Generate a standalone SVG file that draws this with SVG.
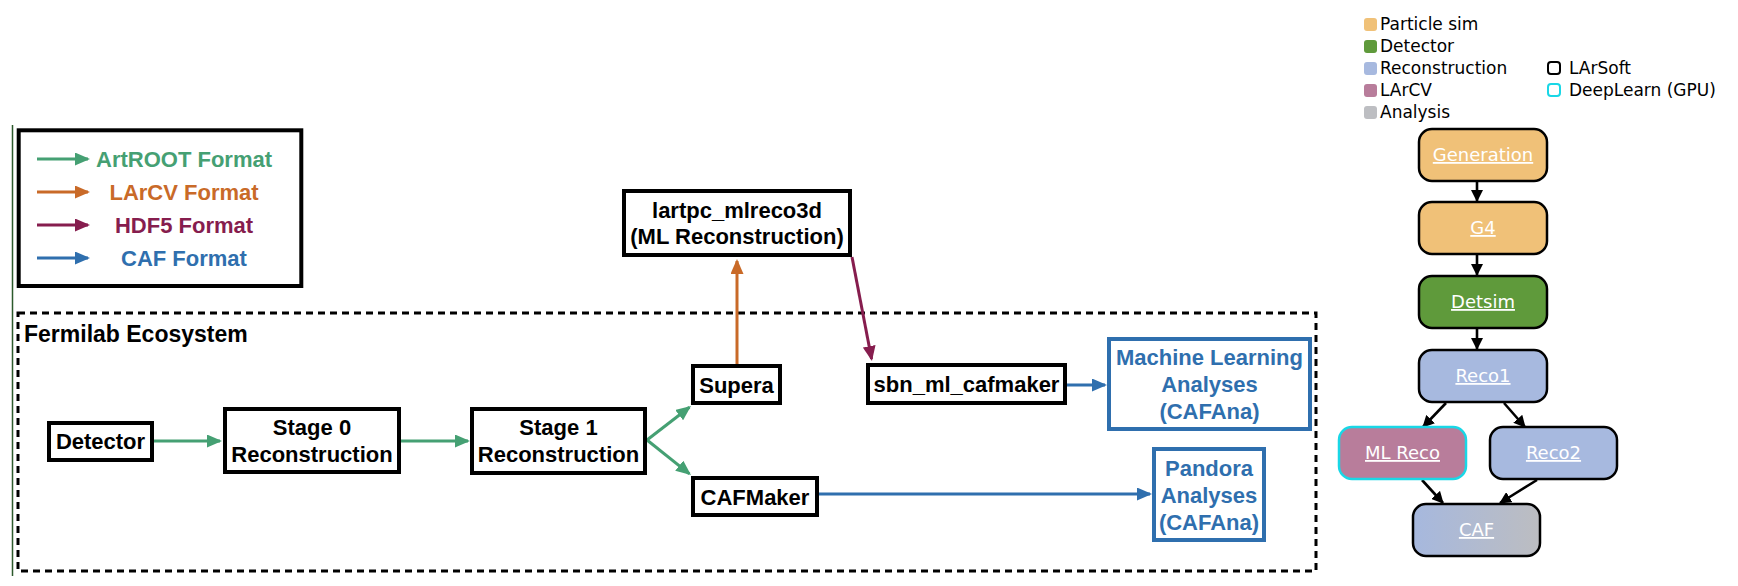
<svg xmlns="http://www.w3.org/2000/svg" width="1738" height="586" viewBox="0 0 1738 586">
<defs>
<style>
.t{font-family:"Liberation Sans",Arial,sans-serif;font-weight:bold;font-size:22px;text-anchor:middle;fill:#000}
.box{fill:#fff;stroke:#000;stroke-width:4}
.bbox{fill:#fff;stroke:#2f6fae;stroke-width:4}
.g{stroke:#45a073;stroke-width:3;fill:none}
.o{stroke:#c96a28;stroke-width:3;fill:none}
.p{stroke:#861d4e;stroke-width:3;fill:none}
.b{stroke:#2f6fae;stroke-width:3;fill:none}
.k{stroke:#000;stroke-width:2.6;fill:none}
.lt{font-family:"DejaVu Sans",Verdana,sans-serif;font-size:17px;fill:#000}
.nt{font-family:"DejaVu Sans",Verdana,sans-serif;font-size:18px;fill:#fff;text-anchor:middle;text-decoration:underline}
.rn{stroke:#000;stroke-width:2.5}
</style>
<marker id="mg" markerUnits="userSpaceOnUse" markerWidth="15" markerHeight="13" refX="13" refY="6.5" orient="auto"><path d="M0,0 L15,6.5 L0,13 z" fill="#45a073"/></marker>
<marker id="mo" markerUnits="userSpaceOnUse" markerWidth="15" markerHeight="13" refX="13" refY="6.5" orient="auto"><path d="M0,0 L15,6.5 L0,13 z" fill="#c96a28"/></marker>
<marker id="mp" markerUnits="userSpaceOnUse" markerWidth="15" markerHeight="13" refX="13" refY="6.5" orient="auto"><path d="M0,0 L15,6.5 L0,13 z" fill="#861d4e"/></marker>
<marker id="mb" markerUnits="userSpaceOnUse" markerWidth="15" markerHeight="13" refX="13" refY="6.5" orient="auto"><path d="M0,0 L15,6.5 L0,13 z" fill="#2f6fae"/></marker>
<marker id="mk" markerUnits="userSpaceOnUse" markerWidth="12" markerHeight="12" refX="11" refY="6" orient="auto"><path d="M0,0 L12,6 L0,12 z" fill="#000"/></marker>
<linearGradient id="cafg" x1="0" y1="0" x2="1" y2="0"><stop offset="0" stop-color="#a6b8de"/><stop offset="1" stop-color="#bcbdc1"/></linearGradient>
</defs>
<rect width="1738" height="586" fill="#fff"/>

<line x1="12.5" y1="125" x2="12.5" y2="576" stroke="#2c5a2c" stroke-width="1.5"/>

<g id="format-legend">
<rect x="18.7" y="130.3" width="282.6" height="155.7" fill="#fff" stroke="#000" stroke-width="4"/>
<line x1="37" y1="159" x2="88" y2="159" class="g" marker-end="url(#mg)"/>
<line x1="37" y1="192" x2="88" y2="192" class="o" marker-end="url(#mo)"/>
<line x1="37" y1="225" x2="88" y2="225" class="p" marker-end="url(#mp)"/>
<line x1="37" y1="258" x2="88" y2="258" class="b" marker-end="url(#mb)"/>
<text class="t" x="184" y="167" style="fill:#45a073">ArtROOT Format</text>
<text class="t" x="184" y="200" style="fill:#c96a28">LArCV Format</text>
<text class="t" x="184" y="233" style="fill:#861d4e">HDF5 Format</text>
<text class="t" x="184" y="266" style="fill:#2f6fae">CAF Format</text>
</g>

<g id="fermilab-ecosystem">
<rect x="18" y="313" width="1298" height="258" fill="none" stroke="#000" stroke-width="3" stroke-dasharray="7 5"/>
<text x="24" y="342" style="font-family:'Liberation Sans',Arial,sans-serif;font-weight:bold;font-size:23px;fill:#000">Fermilab Ecosystem</text>
</g>

<g id="connectors">
<line x1="154" y1="441" x2="220" y2="441" class="g" marker-end="url(#mg)"/>
<line x1="401" y1="441" x2="468" y2="441" class="g" marker-end="url(#mg)"/>
<line x1="647" y1="440" x2="689.4" y2="407.2" class="g" marker-end="url(#mg)"/>
<line x1="647" y1="440" x2="689.4" y2="473.8" class="g" marker-end="url(#mg)"/>
<line x1="737" y1="364" x2="737" y2="261" class="o" marker-end="url(#mo)"/>
<line x1="852" y1="257" x2="871.6" y2="359" class="p" marker-end="url(#mp)"/>
<line x1="1067" y1="385" x2="1105" y2="385" class="b" marker-end="url(#mb)"/>
<line x1="819" y1="494" x2="1150" y2="494" class="b" marker-end="url(#mb)"/>
<line x1="1477" y1="182" x2="1477" y2="201" class="k" marker-end="url(#mk)"/>
<line x1="1477" y1="255" x2="1477" y2="275" class="k" marker-end="url(#mk)"/>
<line x1="1477" y1="329" x2="1477" y2="349" class="k" marker-end="url(#mk)"/>
<line x1="1446" y1="403" x2="1423" y2="427" class="k" marker-end="url(#mk)"/>
<line x1="1504" y1="403" x2="1525" y2="427" class="k" marker-end="url(#mk)"/>
<line x1="1422" y1="480" x2="1443" y2="503" class="k" marker-end="url(#mk)"/>
<line x1="1537" y1="480" x2="1500" y2="503" class="k" marker-end="url(#mk)"/>
</g>

<g id="detector">
<rect class="box" x="49" y="423" width="103" height="37"/>
<text class="t" x="100.5" y="449">Detector</text>
</g>
<g id="stage0">
<rect class="box" x="225" y="409" width="174" height="63"/>
<text class="t" x="312" y="435">Stage 0</text>
<text class="t" x="312" y="462">Reconstruction</text>
</g>
<g id="stage1">
<rect class="box" x="472" y="409" width="173" height="64"/>
<text class="t" x="558.5" y="435">Stage 1</text>
<text class="t" x="558.5" y="462">Reconstruction</text>
</g>
<g id="supera">
<rect class="box" x="693" y="366" width="87" height="37"/>
<text class="t" x="736.5" y="393">Supera</text>
</g>
<g id="cafmaker">
<rect class="box" x="693" y="478" width="124" height="37"/>
<text class="t" x="755" y="505">CAFMaker</text>
</g>
<g id="lartpc">
<rect class="box" x="624" y="191" width="226" height="64"/>
<text class="t" x="737" y="218">lartpc_mlreco3d</text>
<text class="t" x="737" y="244">(ML Reconstruction)</text>
</g>
<g id="sbn-ml-cafmaker">
<rect class="box" x="868" y="365" width="197" height="38"/>
<text class="t" x="966.5" y="392">sbn_ml_cafmaker</text>
</g>
<g id="ml-analyses">
<rect class="bbox" x="1109" y="339" width="201" height="90"/>
<text class="t" x="1209.5" y="365" style="fill:#2f6fae">Machine Learning</text>
<text class="t" x="1209.5" y="392" style="fill:#2f6fae">Analyses</text>
<text class="t" x="1209.5" y="419" style="fill:#2f6fae">(CAFAna)</text>
</g>
<g id="pandora-analyses">
<rect class="bbox" x="1154" y="449" width="110" height="91"/>
<text class="t" x="1209" y="476" style="fill:#2f6fae">Pandora</text>
<text class="t" x="1209" y="503" style="fill:#2f6fae">Analyses</text>
<text class="t" x="1209" y="530" style="fill:#2f6fae">(CAFAna)</text>
</g>

<g id="category-legend">
<rect x="1364" y="18" width="13" height="13" rx="3" fill="#f0c178"/>
<text class="lt" x="1380" y="30">Particle sim</text>
<rect x="1364" y="40" width="13" height="13" rx="3" fill="#5f9a3b"/>
<text class="lt" x="1380" y="52">Detector</text>
<rect x="1364" y="62" width="13" height="13" rx="3" fill="#a7b9df"/>
<text class="lt" x="1380" y="74">Reconstruction</text>
<rect x="1364" y="84" width="13" height="13" rx="3" fill="#b87d9b"/>
<text class="lt" x="1380" y="96">LArCV</text>
<rect x="1364" y="106" width="13" height="13" rx="3" fill="#bdbec2"/>
<text class="lt" x="1380" y="118">Analysis</text>
<rect x="1548" y="62" width="12" height="12" rx="3" fill="none" stroke="#000" stroke-width="2"/>
<text class="lt" x="1569" y="74">LArSoft</text>
<rect x="1548" y="84" width="12" height="12" rx="3" fill="none" stroke="#19d7e6" stroke-width="2"/>
<text class="lt" x="1569" y="96">DeepLearn (GPU)</text>
</g>

<g id="generation">
<rect class="rn" x="1419" y="129" width="128" height="52" rx="13" fill="#f0c178"/>
<text class="nt" x="1483" y="161">Generation</text>
</g>
<g id="g4">
<rect class="rn" x="1419" y="202" width="128" height="52" rx="13" fill="#f0c178"/>
<text class="nt" x="1483" y="234">G4</text>
</g>
<g id="detsim">
<rect class="rn" x="1419" y="276" width="128" height="52" rx="13" fill="#5f9a3b"/>
<text class="nt" x="1483" y="308">Detsim</text>
</g>
<g id="reco1">
<rect class="rn" x="1419" y="350" width="128" height="52" rx="13" fill="#a7b9df"/>
<text class="nt" x="1483" y="382">Reco1</text>
</g>
<g id="ml-reco">
<rect x="1339" y="427" width="127" height="52" rx="13" fill="#b87d9b" stroke="#19d7e6" stroke-width="2.5"/>
<text class="nt" x="1402.5" y="459">ML Reco</text>
</g>
<g id="reco2">
<rect class="rn" x="1490" y="427" width="127" height="52" rx="13" fill="#a7b9df"/>
<text class="nt" x="1553.5" y="459">Reco2</text>
</g>
<g id="caf">
<rect class="rn" x="1413" y="504" width="127" height="52" rx="13" fill="url(#cafg)"/>
<text class="nt" x="1476.5" y="536">CAF</text>
</g>
</svg>
